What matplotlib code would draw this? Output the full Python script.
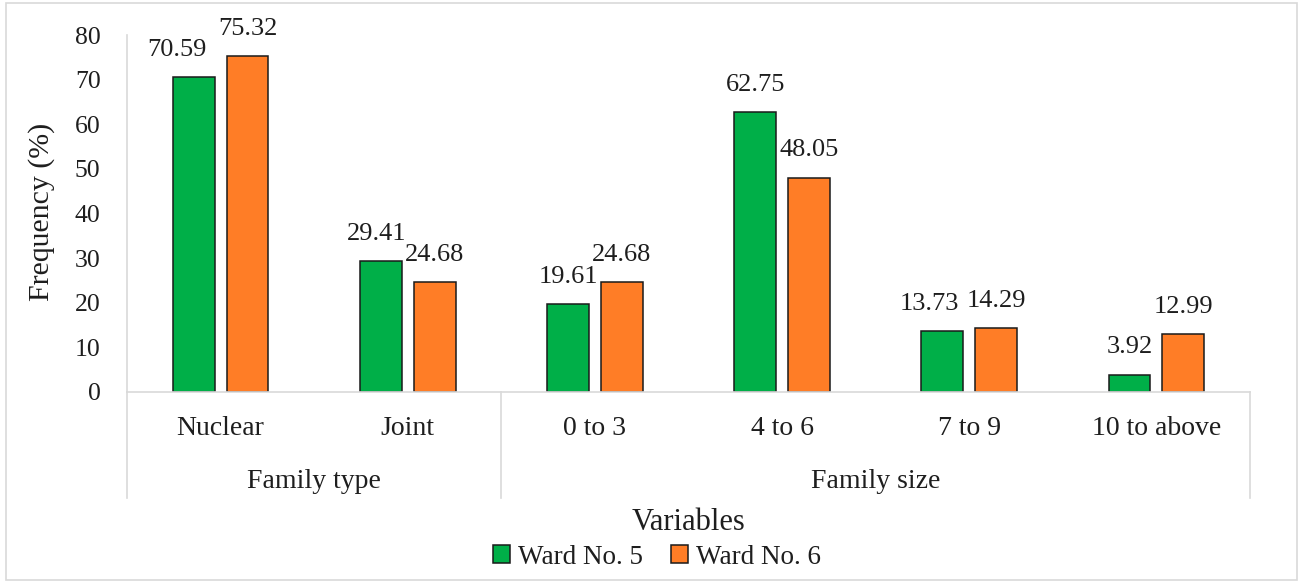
import numpy as np
import matplotlib
matplotlib.use('Agg')
from matplotlib import pyplot as plt
from matplotlib.patches import Rectangle
import matplotlib.transforms as mtransforms

plt.rcParams['font.family'] = ['Liberation Serif', 'DejaVu Serif']

# ---------- Data
categories = ['Nuclear', 'Joint', '0 to 3', '4 to 6', '7 to 9', '10 to above']
groups = ['Family type', 'Family size']
group_sizes = [2, 4]
ward5 = [70.59, 29.41, 19.61, 62.75, 13.73, 3.92]
ward6 = [75.32, 24.68, 24.68, 48.05, 14.29, 12.99]
series_names = ['Ward No. 5', 'Ward No. 6']

green = '#00AF48'
orange = '#FF7D26'
grey = '#D9D9D9'
txt = '#1e1e1e'

W, H = 1299, 583
fig = plt.figure(figsize=(W / 100, H / 100), dpi=100)
ax = fig.add_axes([127 / W, (H - 392) / H, (1250 - 127) / W, (392 - 35) / H])

x = np.arange(len(categories))
bw = 0.224
off = 0.144
b5 = ax.bar(x - off, ward5, bw, color=green, edgecolor='#1a1a1a', linewidth=1.1, label=series_names[0])
b6 = ax.bar(x + off, ward6, bw, color=orange, edgecolor='#1a1a1a', linewidth=1.1, label=series_names[1])

# ---------- Data labels (small shifts where Excel moved them)
shift5 = [-17, -4, 0, 0, -13, 0]
for i, v in enumerate(ward5):
    ax.annotate(f'{v:.2f}', (x[i] - off, v), xytext=(shift5[i] * 0.72, 19.5), textcoords='offset points',
                ha='center', va='center', fontsize=19, color=txt)
for i, v in enumerate(ward6):
    ax.annotate(f'{v:.2f}', (x[i] + off, v), xytext=(0, 19.5), textcoords='offset points',
                ha='center', va='center', fontsize=19, color=txt)

ax.set_xlim(-0.5, len(categories) - 0.5)
ax.set_ylim(0, 80)
ax.set_yticks(np.arange(0, 81, 10))
ax.set_xticks([])
ax.tick_params(axis='y', length=0, pad=19, labelsize=18.5, labelcolor=txt)
for s in ['top', 'right']:
    ax.spines[s].set_visible(False)
for s in ['left', 'bottom']:
    ax.spines[s].set_color(grey)
    ax.spines[s].set_linewidth(1.2)

# ---------- Two-level category axis
trans = mtransforms.blended_transform_factory(ax.transData, ax.transAxes)
for i, c in enumerate(categories):
    ax.text(x[i], -0.101, c, transform=trans, ha='center', va='center', fontsize=20, color=txt)
edges = np.concatenate([[0], np.cumsum(group_sizes)]) - 0.5
for e in edges:
    ax.plot([e, e], [0, -0.297], transform=trans, color=grey, lw=1.2, clip_on=False)
for g, a, b in zip(groups, edges[:-1], edges[1:]):
    ax.text((a + b) / 2, -0.252, g, transform=trans, ha='center', va='center', fontsize=20, color=txt)

fig.text(688 / W, 1 - 522 / H, 'Variables', ha='center', va='center', fontsize=22, color=txt)
fig.text(42 / W, 1 - 212 / H, 'Frequency (%)', ha='center', va='center', rotation=90, fontsize=21.5, color=txt)

fig.legend(handles=[b5, b6], labels=series_names, loc='center', bbox_to_anchor=(657 / W, 1 - 557 / H),
           ncol=2, frameon=False, fontsize=19.5, handlelength=0.65, handleheight=0.65,
           handletextpad=0.3, columnspacing=1.0, labelcolor=txt)

fig.patches.append(Rectangle((6 / W, 3 / H), (1297 - 6) / W, (580 - 3) / H, transform=fig.transFigure,
                             fill=False, edgecolor=grey, lw=1.2))

plt.savefig('out.png', dpi=100)
